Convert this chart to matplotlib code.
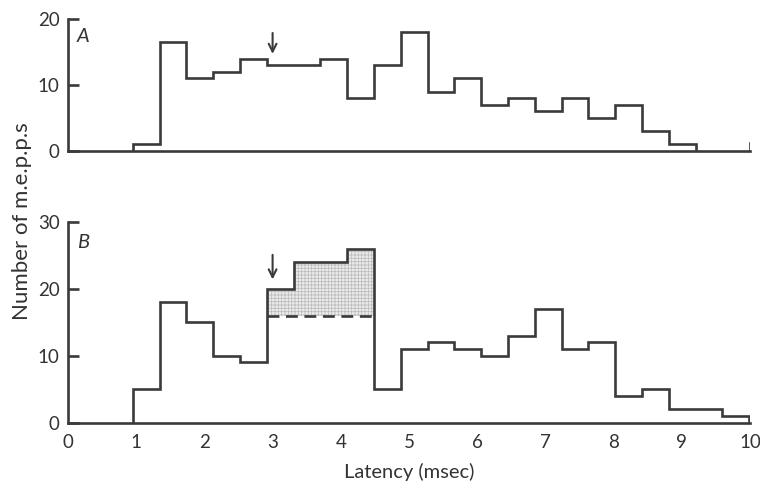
import numpy as np
import matplotlib
matplotlib.use("Agg")
from matplotlib import pyplot as plt

plt.rcParams['font.family'] = ['Lato', 'DejaVu Sans']
plt.rcParams['hatch.linewidth'] = 0.6

# histogram bins (msec)
bin_start = 0.95
bin_width = 0.393

# panel A counts
counts_a = [1, 16.5, 11, 12, 14, 13, 13, 14, 8, 13, 18, 9, 11, 7, 8, 6, 8, 5, 7, 3, 1]
# panel B counts
counts_b = [5, 18, 15, 10, 9, 20, 24, 24, 26, 5, 11, 12, 11, 10, 13, 17, 11, 12, 4, 5, 2, 2, 1]
# dashed level under the shaded excess in B (bins 6-9)
shade_first = 5
shade_last = 8
shade_level = 16

arrow_x = 3.0
xticks = list(range(0, 11))

line_col = '#3a3a3a'
txt_col = '#333333'
lw = 1.9

fig = plt.figure(figsize=(7.6, 4.82), dpi=100)
axA = fig.add_axes([68/760, 1-151/482, 682/760, 132/482])
axB = fig.add_axes([68/760, 1-422.7/482, 682/760, 200.7/482])


def style(ax, ymax, yt):
    ax.set_xlim(0, 10)
    ax.set_ylim(0, ymax)
    for s in ['top', 'right']:
        ax.spines[s].set_visible(False)
    for s in ['left', 'bottom']:
        ax.spines[s].set_color(line_col)
        ax.spines[s].set_linewidth(lw)
    ax.set_yticks(yt)
    ax.tick_params(axis='y', direction='in', length=8, width=lw, color=line_col,
                   labelsize=13.5, labelcolor=txt_col, pad=6)
    ax.set_xticks(xticks)
    ax.tick_params(axis='x', length=0, labelsize=13.5, labelcolor=txt_col, pad=8)


# panel A
edges_a = bin_start + bin_width * np.arange(len(counts_a) + 1)
style(axA, 20, [0, 10, 20])
axA.stairs(counts_a, edges_a, baseline=0, color=line_col, lw=lw)
axA.axvline(10, ymin=0, ymax=0.06, color=line_col, lw=lw)
axA.set_xticklabels([])
axA.text(0.13, 17.3, 'A', fontsize=14.5, style='italic', color=txt_col, va='center')
axA.annotate('', xy=(arrow_x, 14.3), xytext=(arrow_x, 18.3),
             arrowprops=dict(arrowstyle='->', color=line_col, lw=1.5,
                             mutation_scale=14))

# panel B
edges_b = bin_start + bin_width * np.arange(len(counts_b) + 1)
style(axB, 30, [0, 10, 20, 30])
sx = edges_b[shade_first:shade_last + 2]
sy = counts_b[shade_first:shade_last + 1]
axB.stairs(sy, sx, baseline=shade_level, fill=True, facecolor='#ececec',
           edgecolor='#bdbdbd', hatch='+++++', lw=0)
axB.stairs(counts_b, edges_b, baseline=0, color=line_col, lw=lw)
axB.hlines(shade_level, sx[0], sx[-1], colors=line_col, lw=lw,
           linestyles=(0, (4.5, 2.5)))
axB.text(0.13, 26.9, 'B', fontsize=14.5, style='italic', color=txt_col, va='center')
axB.annotate('', xy=(arrow_x, 21.0), xytext=(arrow_x, 25.5),
             arrowprops=dict(arrowstyle='->', color=line_col, lw=1.5,
                             mutation_scale=14))
axB.set_xlabel('Latency (msec)', fontsize=14.5, color=txt_col, labelpad=9)

fig.text(0.029, 1-221/482, 'Number of m.e.p.p.s', rotation=90, fontsize=16,
         color=txt_col, ha='center', va='center')

fig.savefig('out.png', dpi=100)
